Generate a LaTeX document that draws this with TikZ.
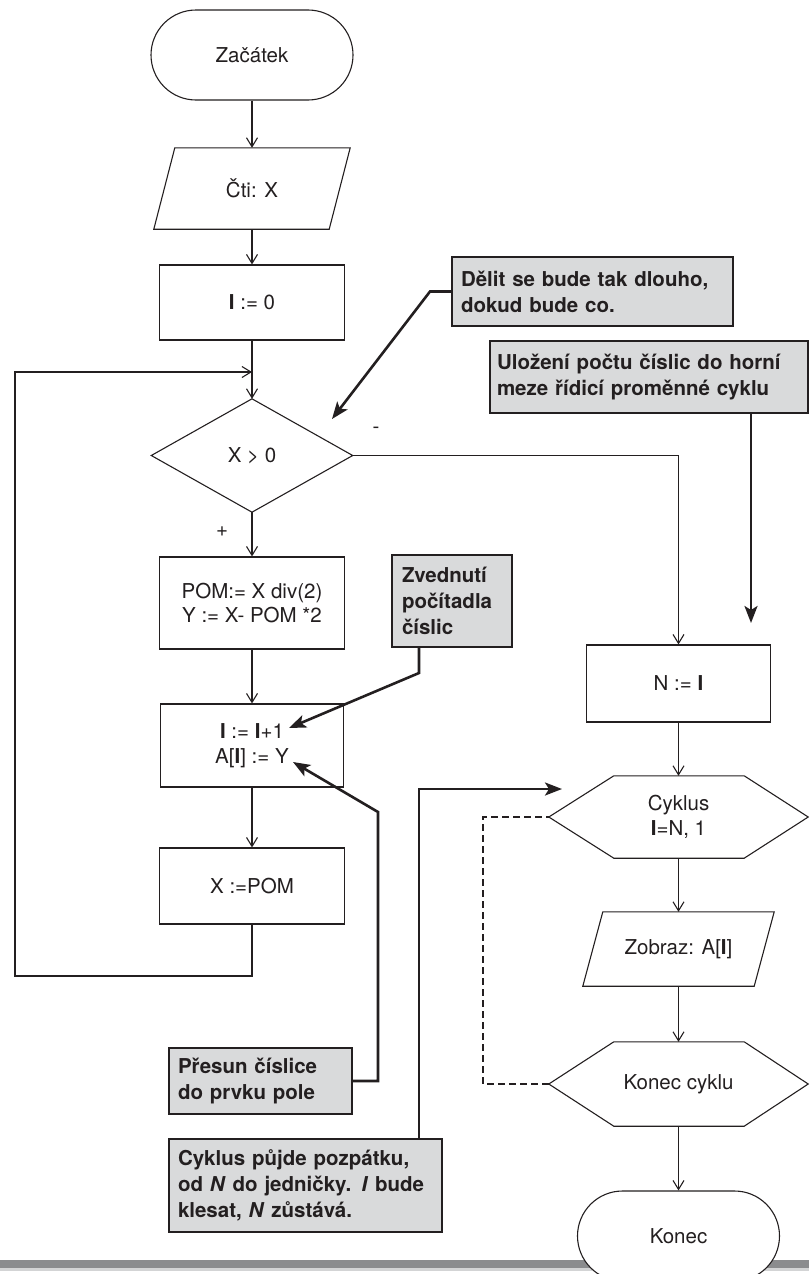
\documentclass[tikz,border=0pt]{standalone}
\usepackage{fontspec}
\setmainfont{TeX Gyre Heros}
\usetikzlibrary{arrows.meta,shapes.misc,calc}
\definecolor{ink}{HTML}{231F20}
\definecolor{notefill}{HTML}{D9DADB}
\definecolor{barfill}{HTML}{8B8C8E}
\definecolor{barlight}{HTML}{D3D4D5}
\newcommand{\bI}{\textbf{I}}

\begin{document}
\begin{tikzpicture}[x=1pt,y=-1pt,
  every node/.style={text=ink},
  flowtext/.style={font=\fontsize{20.5}{24.5}\selectfont, align=center},
  box/.style={flowtext, draw=ink, line width=1.1pt, fill=white, inner sep=0pt},
  ghost/.style={flowtext, inner sep=0pt},
  outline/.style={draw=ink, line width=1.1pt, line join=miter},
  terminal/.style={box, rounded rectangle, minimum width=202pt, minimum height=90pt},
  flow/.style={draw=ink, line width=1.6pt,
    -{Straight Barb[length=9pt,width=11pt,line width=1.1pt]}},
  loopline/.style={flow, line width=1.9pt},
  dashedline/.style={draw=ink, line width=1.4pt, dash pattern=on 7pt off 4pt},
  note/.style={draw=ink, line width=2.4pt, fill=notefill,
    font=\bfseries\fontsize{20.5}{26}\selectfont, align=left,
    inner xsep=9pt, inner ysep=0pt},
  notearrow/.style={draw=ink, line width=2.6pt, line join=miter,
    -{Stealth[length=17pt,width=13pt,inset=4pt]}}
]
\useasboundingbox (0,0) rectangle (809,1274);
\clip (0,0) rectangle (809,1274);

% rule along the foot of the page
\fill[barfill] (0,1260) rectangle (809,1268);
\fill[barlight] (0,1268) rectangle (809,1271);

% ---- main column ----
\node[terminal] (start) at (252,55) {Začátek};

\node[ghost, minimum width=196pt, minimum height=81pt] (cti) at (252,188.5) {Čti: X};
\draw[outline] (cti.south west) -- ([xshift=21pt]cti.north west) -- (cti.north east)
  -- ([xshift=-21pt]cti.south east) -- cycle;

\node[box, minimum width=185pt, minimum height=75pt] (i0) at (252,302.5) {\bI{} := 0};

\node[ghost, minimum width=201pt, minimum height=113pt] (cond) at (252,455.5) {X > 0};
\draw[outline] (cond.north) -- (cond.east) -- (cond.south) -- (cond.west) -- cycle;

\node[box, minimum width=185pt, minimum height=92pt] (pom) at (252,603)
  {POM:= X div(2)\\Y := X- POM *2};
\node[box, minimum width=183pt, minimum height=83pt] (inc) at (252,745.5)
  {\bI{} := \bI+1\\A[\bI] := Y};
\node[box, minimum width=185pt, minimum height=76pt] (xpom) at (252,886) {X :=POM};

% ---- right column ----
\node[box, minimum width=184pt, minimum height=77pt] (n) at (678.5,683.5) {N := \bI};

\node[ghost, minimum width=259pt, minimum height=82pt] (cyk) at (678.5,817) {Cyklus\\\bI=N, 1};
\draw[outline] (cyk.west) -- ([xshift=65pt]cyk.north west) -- ([xshift=-64pt]cyk.north east)
  -- (cyk.east) -- ([xshift=-64pt]cyk.south east) -- ([xshift=65pt]cyk.south west) -- cycle;

\node[ghost, minimum width=191pt, minimum height=74pt] (zob) at (678.5,949) {Zobraz: A[\bI]};
\draw[outline] (zob.south west) -- ([xshift=20pt]zob.north west) -- (zob.north east)
  -- ([xshift=-20pt]zob.south east) -- cycle;

\node[ghost, minimum width=259pt, minimum height=84pt] (kcyk) at (678.5,1084) {Konec cyklu};
\draw[outline] (kcyk.west) -- ([xshift=65pt]kcyk.north west) -- ([xshift=-64pt]kcyk.north east)
  -- (kcyk.east) -- ([xshift=-64pt]kcyk.south east) -- ([xshift=65pt]kcyk.south west) -- cycle;

\node[terminal] (konec) at (678.5,1236) {Konec};

% ---- flow connectors ----
\draw[flow] (start.south) -- (cti.north);
\draw[flow] (cti.south) -- (i0.north);
\draw[flow] (i0.south) -- (cond.north);
\draw[flow] (cond.south) -- (pom.north);
\draw[flow] (pom.south) -- (inc.north);
\draw[flow] (inc.south) -- (xpom.north);

\coordinate (loopin) at (252,372);
\coordinate (loopcorner) at (15,976);
\draw[loopline] (xpom.south) |- (loopcorner) |- (loopin);

\draw[flow] (cond.east) -| (n.north);
\draw[flow] (n.south) -- (cyk.north);
\draw[flow] (cyk.south) -- (zob.north);
\draw[flow] (zob.south) -- (kcyk.north);
\draw[flow] (kcyk.south) -- (konec.north);

\coordinate (dashx) at (483,0);
\draw[dashedline] (kcyk.west) -| (dashx |- cyk.west) -- (cyk.west);

\node[flowtext] (minus) at (376,430) {-};
\node[flowtext] (plus) at (222,532) {+};

% ---- comments ----
\node[note, text width=263pt, minimum height=69pt] (a1) at (592.5,291.5)
  {Dělit se bude tak dlouho,\\dokud bude co.};
\node[note, inner xsep=7pt, text width=304pt, minimum height=72pt] (a2) at (649,377)
  {Uložení počtu číslic do horní\\meze řídicí proměnné cyklu};
\node[note, inner xsep=10pt, text width=100pt, minimum height=92pt] (a3) at (452,601)
  {Zvednutí\\počítadla\\číslic};
\node[note, text width=165pt, minimum height=66pt] (a4) at (260.5,1081)
  {Přesun číslice\\do prvku pole};
\node[note, text width=255pt, minimum height=93pt] (a5) at (305.5,1185.5)
  {Cyklus půjde pozpátku,\\od \textit{N} do jedničky. \textit{I} bude\\klesat, \textit{N} zůstává.};

\coordinate (k1) at (430,291.5);
\coordinate (t1) at (332,419);
\draw[notearrow] (a1.west) -- (k1) -- (t1);

\coordinate (t2) at (751,623);
\draw[notearrow] (a2.south -| t2) -- (t2);

\coordinate (k3) at (419,673);
\coordinate (t3) at (289,728);
\draw[notearrow] (a3.south -| k3) -- (k3) -- (t3);

\coordinate (k4) at (378,812);
\coordinate (t4) at (293,762);
\draw[notearrow] (a4.east) -| (k4) -- (t4);

\coordinate (k5) at (419,789);
\coordinate (t5) at (562,789);
\draw[notearrow] (a5.north -| k5) -- (k5) -- (t5);
\end{tikzpicture}
\end{document}
